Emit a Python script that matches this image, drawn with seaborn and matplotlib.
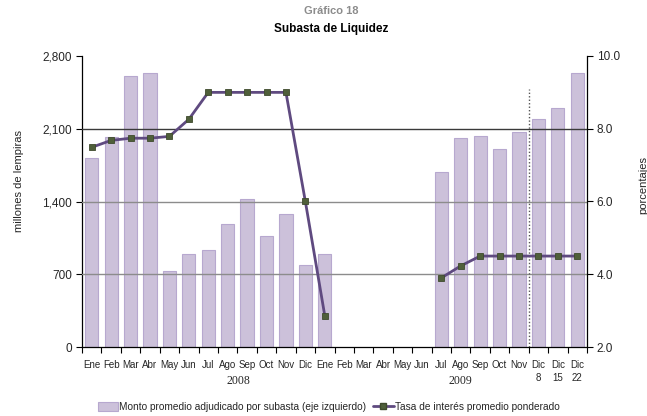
import numpy as np
import pandas as pd
import matplotlib
matplotlib.use("Agg")
import matplotlib.pyplot as plt
import seaborn as sns
from matplotlib.patches import Patch
from matplotlib.lines import Line2D

sns.set_theme(style="white")
plt.rcParams['font.family'] = ['Liberation Sans', 'DejaVu Sans']

months = ["Ene", "Feb", "Mar", "Abr", "May", "Jun", "Jul", "Ago", "Sep", "Oct", "Nov", "Dic",
          "Ene", "Feb", "Mar", "Abr", "May", "Jun", "Jul", "Ago", "Sep", "Oct", "Nov",
          "Dic\n8", "Dic\n15", "Dic\n22"]
monto = [1816, 2018, 2607, 2640, 728, 895, 933, 1180, 1421, 1065, 1283, 792,
         895, np.nan, np.nan, np.nan, np.nan, np.nan, 1681, 2011, 2027, 1908, 2069,
         2191, 2297, 2636]
tasa = [7.49, 7.68, 7.74, 7.74, 7.79, 8.26, 9.0, 9.0, 9.0, 9.0, 9.0, 6.0,
        2.86, np.nan, np.nan, np.nan, np.nan, np.nan, 3.90, 4.23, 4.5, 4.5, 4.5,
        4.5, 4.5, 4.5]
years = ["2008", "2009"]

df = pd.DataFrame({"pos": list(range(len(months))), "monto": monto, "tasa": tasa})
# segment id so the rate line breaks at the gap
df["seg"] = df["tasa"].isna().cumsum()

fig = plt.figure(figsize=(6.47, 4.16), dpi=100)
ax = fig.add_axes([82/647, 69/416, 505/647, 291/416])

bar_color = "#CCC1DA"
bar_edge = "#B7A8CF"
sns.barplot(data=df, x="pos", y="monto", order=list(range(len(months))),
            color=bar_color, edgecolor=bar_edge, linewidth=0.8, width=0.68,
            saturation=1, ax=ax, zorder=2)

ax.set_ylim(0, 2800)
ax.set_xlim(-0.5, len(months) - 0.5)
ax.set_yticks([0, 700, 1400, 2100, 2800])
ax.set_yticklabels(["0", "700", "1,400", "2,100", "2,800"], fontsize=8.5)
for v, c in [(700, "#8C8C8C"), (1400, "#8C8C8C"), (2100, "#3A3A3A")]:
    ax.axhline(v, color=c, lw=1.0, zorder=2.6)

ax.vlines(22.5, 0, 2480, colors="#555555", linestyles=(0, (1, 1.5)), lw=1.0, zorder=3)

ax.set_xticks(range(len(months)))
ax.set_xticklabels(months, fontsize=7, linespacing=1.45)
ax.set_xticks(np.arange(-0.5, len(months), 1.0), minor=True)
ax.tick_params(axis="x", which="major", length=0, pad=9)
ax.tick_params(axis="x", which="minor", length=4, width=0.8, direction="out", color="black", bottom=True)
ax.tick_params(axis="y", length=4, width=0.8, direction="out", color="black", left=True, pad=3)
ax.set_xlabel("")
ax.set_ylabel("millones de lempiras", fontsize=8)
ax.yaxis.set_label_coords(-0.115, 0.57)

for s in ["top", "right"]:
    ax.spines[s].set_visible(False)
for s in ["left", "bottom"]:
    ax.spines[s].set_color("black")
    ax.spines[s].set_linewidth(0.9)

ax2 = ax.twinx()
line_color = "#5F4A80"
sns.lineplot(data=df.dropna(subset=["tasa"]), x="pos", y="tasa", units="seg", estimator=None,
             ax=ax2, color=line_color, lw=2.0,
             marker="s", markersize=4, markerfacecolor="#4F5F3A",
             markeredgecolor="#3E4A2C", markeredgewidth=0.6, zorder=4)
ax2.set_ylim(2, 10)
ax2.set_xlim(-0.5, len(months) - 0.5)
ax2.set_yticks([2, 4, 6, 8, 10])
ax2.set_yticklabels(["2.0", "4.0", "6.0", "8.0", "10.0"], fontsize=8.5)
ax2.tick_params(axis="y", length=4, width=0.8, direction="out", color="black", right=True, pad=3)
ax2.set_ylabel("")
ax2.set_xlabel("")
for s in ["top", "left", "bottom"]:
    ax2.spines[s].set_visible(False)
ax2.spines["right"].set_color("black")
ax2.spines["right"].set_linewidth(0.9)
ax2.grid(False)
ax.grid(False)
if ax2.get_legend() is not None:
    ax2.get_legend().remove()

fig.text(643/647, 1 - 185/416, "porcentajes", rotation=90, fontsize=8,
         ha="center", va="center")

# year labels
fig.text(238/647, 1 - 381/416, years[0], family="Liberation Serif", fontsize=8.5, ha="center", va="center")
fig.text(460/647, 1 - 381/416, years[1], family="Liberation Serif", fontsize=8.5, ha="center", va="center")

# titles
fig.text(0.512, 1 - 11/416, "Gráfico 18", color="#8C8C8C", fontweight="bold", fontsize=8, ha="center", va="center")
fig.text(0.512, 1 - 29/416, "Subasta de Liquidez", color="black", fontweight="bold", fontsize=8.5, ha="center", va="center")

handles = [Patch(facecolor=bar_color, edgecolor=bar_edge, linewidth=0.8),
           Line2D([0], [0], color=line_color, lw=2, marker="s", markersize=4,
                  markerfacecolor="#4F5F3A", markeredgecolor="#3E4A2C")]
labels = ["Monto promedio adjudicado por subasta (eje izquierdo)",
          "Tasa de interés promedio ponderado"]
fig.legend(handles, labels, loc="center", bbox_to_anchor=(0.508, 1 - 407/416), ncol=2,
           frameon=False, fontsize=7.3, handlelength=2.0, handleheight=0.9,
           handletextpad=0.1, columnspacing=0.7)

fig.savefig("out.png", dpi=100)
